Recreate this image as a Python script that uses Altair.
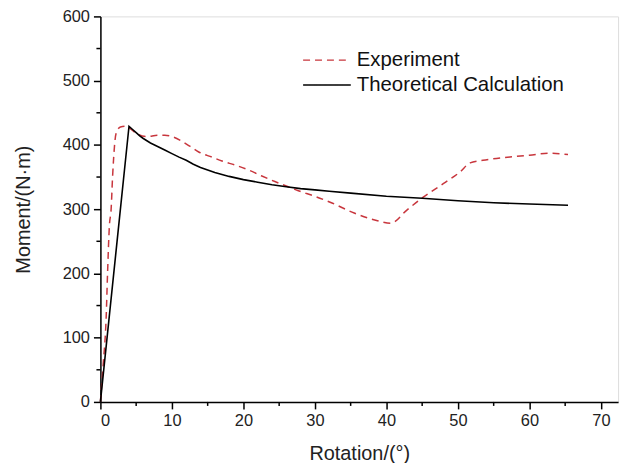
import altair as alt
import pandas as pd

# Theoretical calculation curve
theory_x = [0, 4, 4.5, 5, 5.5, 6, 7, 8, 9, 10, 11, 12, 13, 14, 15, 16, 18, 20, 22, 24, 26, 28,
            30, 32, 35, 40, 45, 50, 55, 60, 65.4]
theory_y = [0, 429, 424, 419, 414, 410, 403, 397.5, 392, 386.5, 381, 376, 370, 365, 361, 357, 351,
            346, 342, 338, 335, 332, 330, 328, 325, 320, 317, 313, 310, 308, 306]

# Experiment curve
exp_x = [0, 0.4, 0.8, 1.0, 1.25, 1.5, 1.7, 2.2, 2.8, 3.5, 4.2, 5, 6.5, 8, 9, 10, 11.2, 12.5,
         13.75, 15.6, 17, 19, 20.7, 22.5, 24.4, 26, 27.6, 30, 32.3, 35.5, 38.75, 40.6, 42.9,
         45.2, 48, 50.3, 51.7, 53.5, 55.4, 58, 60, 62.8, 65.4]
exp_y = [0, 60, 130, 200, 273, 300, 350, 418, 428, 429, 425, 418, 413, 415, 415, 413, 407, 398,
         389, 381, 375, 368, 361, 352, 343, 336, 329, 320, 310, 294, 282, 278, 299,
         319, 340, 358, 372, 376, 379, 382, 384, 387, 385]

series_names = ["Experiment", "Theoretical Calculation"]
series_colors = ["#c8363d", "black"]
series_dash = [[7, 5], [1, 0]]
x_ticks = [0, 10, 20, 30, 40, 50, 60, 70]
y_ticks = [0, 100, 200, 300, 400, 500, 600]
x_minor = [5, 15, 25, 35, 45, 55, 65]
y_minor = [50, 150, 250, 350, 450, 550]

exp_df = pd.DataFrame({"x": exp_x, "y": exp_y, "order": range(len(exp_x))})
theory_df = pd.DataFrame({"x": theory_x, "y": theory_y, "order": range(len(theory_x))})

W, H = 521, 388
FONT = "Liberation Sans"

xscale = alt.Scale(domain=[0, 72.4], nice=False, zero=False)
yscale = alt.Scale(domain=[0, 600], nice=False)

xaxis = alt.Axis(values=x_ticks, grid=False, tickSize=7, tickWidth=1.5, tickColor="black",
                 domainColor="black", domainWidth=1.5, labelFont=FONT, labelFontSize=16.5,
                 labelColor="#222", labelPadding=4, titleFont=FONT, titleFontSize=20,
                 titleFontWeight="normal", titleColor="#222", titlePadding=14)
yaxis = alt.Axis(values=y_ticks, grid=False, tickSize=7, tickWidth=1.5, tickColor="black",
                 domainColor="black", domainWidth=1.5, labelFont=FONT, labelFontSize=16.5,
                 labelColor="#222", labelPadding=4, titleFont=FONT, titleFontSize=20,
                 titleFontWeight="normal", titleColor="#222", titlePadding=29)

exp_line = alt.Chart(exp_df).mark_line(
    strokeWidth=1.5, clip=False, interpolate="monotone",
    color=series_colors[0], strokeDash=series_dash[0]).encode(
    x=alt.X("x:Q", scale=xscale, title="Rotation/(°)", axis=xaxis),
    y=alt.Y("y:Q", scale=yscale, title="Moment/(N·m)", axis=yaxis),
    order="order:Q",
)
theory_line = alt.Chart(theory_df).mark_line(
    strokeWidth=1.6, clip=False, interpolate="linear", color=series_colors[1]).encode(
    x=alt.X("x:Q", scale=xscale),
    y=alt.Y("y:Q", scale=yscale),
    order="order:Q",
)

minor_x = alt.Chart(pd.DataFrame({"x": x_minor})).mark_rule(color="black", strokeWidth=1.5).encode(
    x=alt.X("x:Q", scale=xscale), y=alt.value(H), y2=alt.value(H + 4))
minor_y = alt.Chart(pd.DataFrame({"y": y_minor})).mark_rule(color="black", strokeWidth=1.5).encode(
    y=alt.Y("y:Q", scale=yscale), x=alt.value(0), x2=alt.value(-4))

# manual legend
legend_layers = []
one = pd.DataFrame({"k": [0]})
for i, name in enumerate(series_names):
    ypos = 44 + 25 * i
    legend_layers.append(
        alt.Chart(one).mark_rule(color=series_colors[i], strokeWidth=1.5, strokeDash=series_dash[i]).encode(
            x=alt.value(204), x2=alt.value(252), y=alt.value(ypos)))
    legend_layers.append(
        alt.Chart(one).mark_text(text=name, align="left", baseline="middle", font=FONT,
                                 fontSize=20.5, color="#111").encode(
            x=alt.value(258), y=alt.value(ypos)))

chart = alt.layer(exp_line, theory_line, minor_x, minor_y, *legend_layers).properties(
    width=W, height=H,
    autosize=alt.AutoSizeParams(type="none"),
    padding={"left": 93, "top": 7, "right": 12, "bottom": 60},
).configure_view(stroke=None).configure(background="white")

chart.save("out.html", embed_options={"renderer": "svg", "actions": False})
